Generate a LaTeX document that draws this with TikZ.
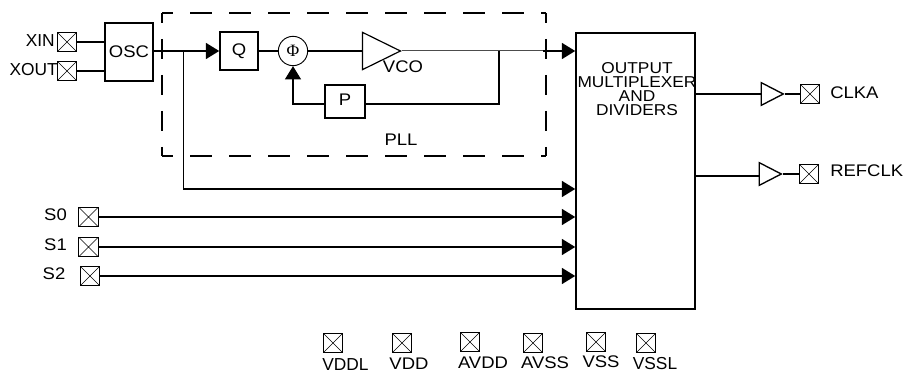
\documentclass[tikz,border=0pt]{standalone}
\usepackage{fontspec}
\setmainfont{Liberation Sans}
\newfontfamily\phifont{Liberation Serif}
\newfontfamily\widefont[FakeStretch=1.1]{Liberation Sans}
\usetikzlibrary{arrows.meta,shapes.geometric}
\tikzset{
  x=0.75pt,y=-0.75pt,
  txt/.style={inner sep=0pt,font=\fontsize{13}{10.5}\selectfont,align=center},
  wtxt/.style={inner sep=0pt,font=\widefont\fontsize{12.6}{10.5}\selectfont,align=center},
  muxtxt/.style={inner sep=0pt,font=\widefont\fontsize{11.8}{10.5}\selectfont,align=center},
  pad/.style={draw,line width=0.6pt,minimum size=14.5pt,inner sep=0pt,
    path picture={\draw[line width=0.5pt] (path picture bounding box.north west)--(path picture bounding box.south east)
      (path picture bounding box.north east)--(path picture bounding box.south west);}},
  blk/.style={draw,line width=1.2pt,inner sep=0pt,font=\widefont\fontsize{12.6}{10.5}\selectfont,align=center},
  wire/.style={line width=1.2pt},
  thinwire/.style={line width=0.75pt},
  arr/.style={-{Triangle[length=10pt,width=12pt]}},
  buf/.style={draw,isosceles triangle,isosceles triangle stretches=true,inner sep=0pt},
  dashh/.style={line width=1.2pt,dash pattern=on 16.5pt off 12.75pt,dash phase=8.25pt},
  dashv/.style={line width=1.2pt,dash pattern=on 15pt off 12pt,dash phase=7.5pt},
}
\begin{document}
\begin{tikzpicture}
\useasboundingbox (0,0) rectangle (905,373);
% PLL outline
\coordinate (nw) at (162,13);
\coordinate (ne) at (546,13);
\coordinate (sw) at (162,156);
\coordinate (se) at (546,156);
\draw[dashh] (nw) -- (ne);
\draw[dashh] (sw) -- (se);
\draw[dashv] (nw) -- (sw);
\draw[dashv] (ne) -- (se);
% input pads
\node[pad] (xin) at (67,42) {};
\node[pad] (xout) at (67,71) {};
\node[txt,anchor=east] (lxin) at (55,41) {XIN};
\node[txt,anchor=east] (lxout) at (58,70) {XOUT};
% blocks
\node[blk,minimum width=36pt,minimum height=43.5pt] (osc) at (129,52) {\raisebox{1pt}{OSC}};
\node[blk,minimum width=28.5pt,minimum height=28.5pt] (q) at (239,51) {\raisebox{2pt}{Q}};
\node[draw,circle,line width=0.7pt,minimum size=22pt,inner sep=0pt,font=\phifont\fontsize{13}{13}\selectfont] (phi) at (293,51) {Φ};
\node[buf,line width=0.9pt,minimum width=28pt,minimum height=28.5pt,anchor=apex] (vco) at (402,51) {};
\node[wtxt] (lvco) at (403,67) {VCO};
\node[blk,minimum width=30pt,minimum height=25pt] (p) at (345,101.5) {\raisebox{2pt}{P}};
\node[wtxt] (lpll) at (401,140) {PLL};
\node[blk,minimum width=89.25pt,minimum height=207pt] (mux) at (635.5,171) {};
\node[muxtxt,anchor=north] (lmux) at (637,62) {OUTPUT\\MULTIPLEXER\\AND\\DIVIDERS};
% corner points
\coordinate (j1) at (183,51);
\coordinate (j2) at (499,51);
\coordinate (j3) at (543,51);
\coordinate (j4) at (183,189);
\coordinate (pe) at (365,104);
\coordinate (pw) at (325,104);
% connectors
\draw[wire] (xin.east) -- (xin.east -| osc.west);
\draw[wire] (xout.east) -- (xout.east -| osc.west);
\draw[wire,arr] (osc.east |- q.west) -- (q.west);
\draw[wire] (q.east) -- (phi.west);
\draw[wire] (phi.east) -- (vco.west);
\draw[thinwire,black!70] (vco.apex) -- (j3);
\draw[wire,arr] (j3) -- (j3 -| mux.west);
\draw[wire] (j2) |- (pe);
\draw[wire,arr] (pw) -| (phi.south);
\draw[thinwire] (j1) -- (j4);
\draw[wire,arr] (j4) -- (j4 -| mux.west);
% select pads
\node[pad] (s0) at (88.5,217) {};
\node[pad] (s1) at (88.5,247) {};
\node[pad] (s2) at (90,276) {};
\node[wtxt] (ls0) at (55.5,215) {S0};
\node[wtxt] (ls1) at (55.5,245) {S1};
\node[wtxt] (ls2) at (54,273.5) {S2};
\draw[wire,arr] (s0.east) -- (s0.east -| mux.west);
\draw[wire,arr] (s1.east) -- (s1.east -| mux.west);
\draw[wire,arr] (s2.east) -- (s2.east -| mux.west);
% outputs
\node[buf,line width=1pt,minimum width=17pt,minimum height=16.5pt,anchor=apex] (b1) at (785,94) {};
\node[buf,line width=1pt,minimum width=17pt,minimum height=16.5pt,anchor=apex] (b2) at (783,174) {};
\node[pad] (clka) at (810,94) {};
\node[pad] (ref) at (809,174) {};
\node[wtxt,anchor=west] (lclka) at (830,93) {CLKA};
\node[wtxt,anchor=west] (lref) at (830,171) {REFCLK};
\coordinate (r1) at (760,176);
\draw[wire] (b1.west -| mux.east) -- (b1.west);
\draw[wire] (b1.apex) -- (clka.west);
\draw[wire] (r1 -| mux.east) -- (r1);
\draw[wire] (b2.apex) -- (ref.west);
% supply pads
\node[pad] (p1) at (333,343) {};
\node[pad] (p2) at (402,343) {};
\node[pad] (p3) at (470,342) {};
\node[pad] (p4) at (533,343) {};
\node[pad] (p5) at (596,342) {};
\node[pad] (p6) at (646,343) {};
\node[txt] (t1) at (345.5,365) {VDDL};
\node[wtxt] (t2) at (409,364) {VDD};
\node[wtxt] (t3) at (483,363) {AVDD};
\node[wtxt] (t4) at (545,363) {AVSS};
\node[wtxt] (t5) at (601,362) {VSS};
\node[txt] (t6) at (655,364) {VSSL};
\end{tikzpicture}
\end{document}
